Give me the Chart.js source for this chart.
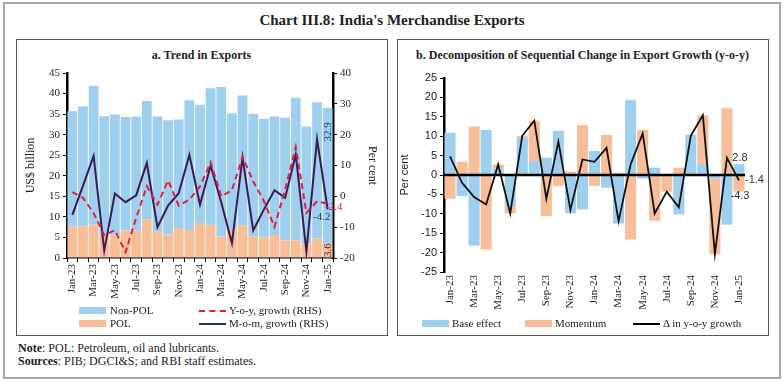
<!DOCTYPE html>
<html>
<head>
<meta charset="utf-8">
<script src="https://cdn.jsdelivr.net/npm/chart.js@4.4.1/dist/chart.umd.min.js"></script>
<style>
  body { margin: 0; background: #fff; width: 784px; height: 385px; overflow: hidden; position: relative; font-family: 'Liberation Serif', serif; color: #222; }
  #frame { position: absolute; left: 3px; top: 2px; width: 774px; height: 373px; border: 2px solid #a8a8a8; }
  .box { position: absolute; top: 39px; width: 370px; height: 295px; border: 1px solid #555; }
  .abs { position: absolute; white-space: nowrap; }
  .ctr { text-align: center; }
  #title { left: 0; width: 784px; top: 10px; font-size: 15px; font-weight: bold; line-height: 20px; }
  .ptitle { font-size: 12px; font-weight: bold; line-height: 16px; top: 47px; }
  .leg { font-size: 11px; line-height: 13px; }
  .sw { position: absolute; width: 27px; height: 7px; }
  .ln { position: absolute; width: 27px; height: 0; }
  .note { font-size: 12px; line-height: 13px; left: 18px; }
  canvas { position: absolute; }
</style>
</head>
<body>
<div id="frame"></div>
<div id="title" class="abs ctr">Chart III.8: India's Merchandise Exports</div>

<div class="box" style="left:16px"></div>
<div class="box" style="left:397px"></div>
<div class="abs ctr ptitle" style="left:16px;width:371px">a. Trend in Exports</div>
<div class="abs ctr ptitle" style="left:397px;width:371px">b. Decomposition of Sequential Change in Export Growth (y-o-y)</div>

<canvas id="chartA" width="369" height="250" style="left:17px;top:62px"></canvas>
<canvas id="chartB" width="369" height="250" style="left:398px;top:62px"></canvas>

<!-- legend a -->
<div class="sw" style="left:79px;top:307px;background:#9ECFEF"></div>
<div class="abs leg" style="left:110px;top:304px">Non-POL</div>
<div class="sw" style="left:79px;top:320px;background:#F8BE97"></div>
<div class="abs leg" style="left:110px;top:317px">POL</div>
<div class="ln" style="left:199px;top:310px;border-top:2px dashed #E0203A"></div>
<div class="abs leg" style="left:229px;top:304px">Y-o-y, growth (RHS)</div>
<div class="ln" style="left:199px;top:323px;border-top:2px solid #1F3A6E"></div>
<div class="abs leg" style="left:229px;top:317px">M-o-m, growth (RHS)</div>

<!-- legend b -->
<div class="sw" style="left:422px;top:320px;background:#9ECFEF"></div>
<div class="abs leg" style="left:452px;top:317px">Base effect</div>
<div class="sw" style="left:525px;top:320px;background:#F8BE97"></div>
<div class="abs leg" style="left:555px;top:317px">Momentum</div>
<div class="ln" style="left:633px;top:323px;border-top:2px solid #000"></div>
<div class="abs leg" style="left:663px;top:317px">Δ in y-o-y growth</div>

<div class="abs note" style="top:342px"><b>Note</b>: POL: Petroleum, oil and lubricants.</div>
<div class="abs note" style="top:355px"><b>Sources</b>: PIB; DGCI&amp;S; and RBI staff estimates.</div>

<script>
// months shown on both panels
const months = ["Jan-23", "Feb-23", "Mar-23", "Apr-23", "May-23", "Jun-23", "Jul-23", "Aug-23",
  "Sep-23", "Oct-23", "Nov-23", "Dec-23", "Jan-24", "Feb-24", "Mar-24", "Apr-24", "May-24",
  "Jun-24", "Jul-24", "Aug-24", "Sep-24", "Oct-24", "Nov-24", "Dec-24", "Jan-25"];

// panel a: exports, US$ billion
const polExports = [7.6, 7.7, 8.2, 5.5, 5.5, 6.7, 6.6, 9.4, 6.4, 5.7, 7.3, 6.8, 8.5,
  8.1, 5.2, 7.0, 8.0, 5.3, 5.0, 5.6, 4.3, 4.3, 3.6, 4.8, 3.6];
const nonPolExports = [28.1, 29.2, 33.7, 29.0, 29.4, 27.6, 27.8, 28.8, 28.0, 27.8, 26.4, 31.6, 28.8,
  33.2, 36.4, 28.2, 31.5, 29.8, 28.8, 28.8, 29.9, 34.7, 28.4, 33.1, 32.9];
// panel a: growth, per cent (RHS)
const yoyGrowth = [1.4, -0.5, -5.4, -12.6, -11.0, -18.1, -7.0, 3.3, -2.7, 5.1, -3.0, -1.1, 3.2,
  11.0, 0.0, 2.0, 12.8, 4.8, -1.5, -9.9, 2.2, 16.0, -5.4, -1.6, -2.4];
const momGrowth = [-6.0, 3.4, 13.1, -17.6, 0.9, -1.9, 0.3, 10.8, -10.0, -3.0, 1.0, 13.4, -2.7,
  10.0, -2.0, -15.2, 12.6, -11.1, -4.3, 2.0, -0.5, 13.6, -17.9, 18.5, -4.2];

// panel b: decomposition, per cent
const baseEffect = [10.9, -5.4, -18.2, 11.6, 1.7, -8.0, 9.6, 3.6, 4.5, 11.4, -9.9, -8.9, 6.2,
  -3.3, -12.5, 19.3, -0.9, 1.9, 0.0, -10.2, 10.4, 2.8, -0.9, -12.8, 2.8];
const momentum = [-6.1, 3.4, 12.5, -19.2, 1.0, -1.9, 0.5, 10.4, -10.6, -2.8, 0.9, 12.9, -2.8,
  10.3, 0.6, -16.6, 11.6, -11.8, -4.3, 1.9, -0.3, 12.6, -19.5, 17.2, -4.3];
const yoyChange = [4.8, -2.0, -5.7, -7.6, 2.7, -9.9, 10.1, 14.0, -6.1, 8.6, -9.0, 4.0, 3.4,
  7.0, -11.9, 2.7, 10.7, -9.9, -4.3, -8.3, 10.1, 15.4, -20.4, 4.4, -1.4];

const blue = "#9ECFEF";
const orange = "#F8BE97";
const last = months.length - 1;

Chart.defaults.font.family = "'Liberation Serif', serif";
Chart.defaults.color = "#222";

// writes a value next to a given point or bar
const valueLabels = {
  id: "valueLabels",
  afterDatasetsDraw(chart, args, opts) {
    const ctx = chart.ctx;
    (opts.items || []).forEach((it) => {
      const el = chart.getDatasetMeta(it.ds).data[it.idx];
      ctx.save();
      ctx.font = it.font;
      ctx.fillStyle = it.color;
      ctx.textAlign = it.align || "center";
      ctx.textBaseline = "middle";
      ctx.translate(el.x + (it.dx || 0), el.y + (it.dy || 0));
      if (it.rotate) ctx.rotate(it.rotate);
      ctx.fillText(it.text, 0, 0);
      ctx.restore();
    });
  },
};
Chart.register(valueLabels);

// thick zero line, drawn below the line series but over the bars
const zeroLine = {
  id: "zeroLine",
  beforeDatasetDraw(chart, args) {
    if (args.meta.type !== "line") return;
    const { ctx, chartArea, scales } = chart;
    const y0 = scales.y.getPixelForValue(0);
    ctx.save();
    ctx.strokeStyle = "#000";
    ctx.lineWidth = 2.5;
    ctx.beginPath();
    ctx.moveTo(chartArea.left, y0);
    ctx.lineTo(chartArea.right, y0);
    ctx.stroke();
    ctx.restore();
  },
};

function everyOther(value, index) {
  return index % 2 === 0 ? months[index] : "";
}

// Panel a
new Chart(document.getElementById("chartA"), {
  data: {
    labels: months,
    datasets: [
      { type: "bar", label: "POL", data: polExports, backgroundColor: orange, yAxisID: "y", order: 2, barPercentage: 0.92, categoryPercentage: 1 },
      { type: "bar", label: "Non-POL", data: nonPolExports, backgroundColor: blue, yAxisID: "y", order: 2, barPercentage: 0.92, categoryPercentage: 1 },
      { type: "line", label: "M-o-m, growth (RHS)", data: momGrowth, yAxisID: "y1", borderColor: "#3C1B52", borderWidth: 2, pointRadius: 0, tension: 0, order: 1 },
      { type: "line", label: "Y-o-y, growth (RHS)", data: yoyGrowth, yAxisID: "y1", borderColor: "#E0203A", borderWidth: 2, borderDash: [6, 4], pointRadius: 0, tension: 0, order: 0 },
    ],
  },
  options: {
    responsive: false,
    animation: false,
    layout: { padding: { top: 11 } },
    plugins: {
      legend: { display: false },
      tooltip: { enabled: false },
      valueLabels: {
        items: [
          { ds: 1, idx: last, text: nonPolExports[last].toFixed(1), color: "#1F3A6E", font: "11px 'Liberation Serif'", dy: 24, rotate: -Math.PI / 2 },
          { ds: 0, idx: last, text: polExports[last].toFixed(1), color: "#333", font: "11px 'Liberation Serif'", dy: 7, rotate: -Math.PI / 2 },
          { ds: 2, idx: last, text: momGrowth[last].toFixed(1), color: "#1F3A6E", font: "11px 'Liberation Serif'", dx: -6, dy: 8 },
          { ds: 3, idx: last, text: yoyGrowth[last].toFixed(1), color: "#E0203A", font: "11px 'Liberation Serif'", dx: 6, dy: 3 },
        ],
      },
    },
    scales: {
      x: {
        stacked: true,
        grid: { drawOnChartArea: false, color: "#000", tickLength: 4 },
        border: { color: "#000", width: 1.5 },
        ticks: { autoSkip: false, maxRotation: 90, minRotation: 90, padding: 2, font: { size: 11 }, callback: everyOther },
        afterFit(s) { s.height = 54; },
      },
      y: {
        stacked: true,
        min: 0,
        max: 45,
        ticks: { stepSize: 5, padding: 3, font: { size: 11 } },
        grid: { drawOnChartArea: false, color: "#000", tickLength: 4 },
        border: { color: "#000", width: 2.5 },
        title: { display: true, text: "US$ billion", font: { size: 12 }, padding: { top: 7, bottom: 0 } },
        afterFit(s) { s.width = 50; },
      },
      y1: {
        position: "right",
        min: -20,
        max: 40,
        ticks: { stepSize: 10, padding: 3, font: { size: 11 } },
        grid: { drawOnChartArea: false, color: "#000", tickLength: 4 },
        border: { color: "#000", width: 2.5 },
        title: { display: true, text: "Per cent", font: { size: 12 }, padding: { top: 7, bottom: 0 } },
        afterFit(s) { s.width = 53; },
      },
    },
  },
});

// Panel b
new Chart(document.getElementById("chartB"), {
  data: {
    labels: months,
    datasets: [
      { type: "bar", label: "Base effect", data: baseEffect, backgroundColor: blue, stack: "s", order: 1, barPercentage: 0.92, categoryPercentage: 1 },
      { type: "bar", label: "Momentum", data: momentum, backgroundColor: orange, stack: "s", order: 1, barPercentage: 0.92, categoryPercentage: 1 },
      { type: "line", label: "Δ in y-o-y growth", data: yoyChange, stack: "line", borderColor: "#111", borderWidth: 1.8, pointRadius: 0, tension: 0, order: 0 },
    ],
  },
  plugins: [zeroLine],
  options: {
    responsive: false,
    animation: false,
    layout: { padding: { top: 16, right: 22 } },
    plugins: {
      legend: { display: false },
      tooltip: { enabled: false },
      valueLabels: {
        items: [
          { ds: 0, idx: last, text: baseEffect[last].toFixed(1), color: "#333", font: "11px 'Liberation Sans'", dx: 1, dy: -6 },
          { ds: 2, idx: last, text: yoyChange[last].toFixed(1), color: "#333", font: "11px 'Liberation Sans'", dx: 6, dy: 0, align: "left" },
          { ds: 1, idx: last, text: momentum[last].toFixed(1), color: "#333", font: "11px 'Liberation Sans'", dx: 1, dy: 4 },
        ],
      },
    },
    scales: {
      x: {
        stacked: true,
        grid: { display: false, drawTicks: false },
        border: { display: false },
        ticks: { autoSkip: false, maxRotation: 90, minRotation: 90, padding: 3, font: { size: 11 }, callback: everyOther },
        afterFit(s) { s.height = 40; },
      },
      y: {
        stacked: true,
        min: -25,
        max: 25,
        ticks: { stepSize: 5, padding: 3, font: { family: "'Liberation Sans'", size: 11 } },
        grid: { drawOnChartArea: false, color: "#000", tickLength: 4 },
        border: { color: "#000", width: 2.5 },
        title: { display: true, text: "Per cent", font: { family: "'Liberation Sans'", size: 11 }, padding: 0 },
        afterFit(s) { s.width = 46; },
      },
    },
  },
});
</script>
</body>
</html>
